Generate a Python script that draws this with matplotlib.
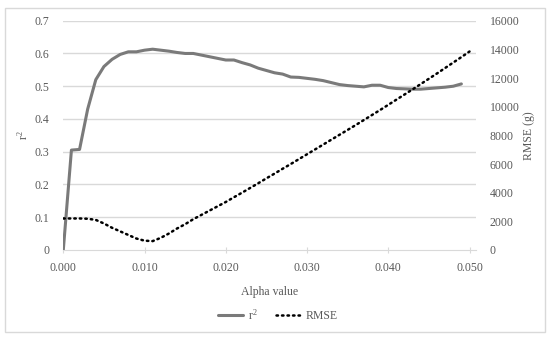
import matplotlib
matplotlib.use("Agg")
import matplotlib.pyplot as plt
from matplotlib.patches import Rectangle
import numpy as np

plt.rcParams['font.family'] = ['Liberation Serif', 'DejaVu Serif']
plt.rcParams['mathtext.fontset'] = 'custom'
plt.rcParams['mathtext.rm'] = 'Liberation Serif'
plt.rcParams['mathtext.it'] = 'Liberation Serif'

alpha_r2 = [0.000, 0.001, 0.002, 0.003, 0.004, 0.005, 0.006, 0.007, 0.008, 0.009,
            0.010, 0.011, 0.012, 0.013, 0.014, 0.015, 0.016, 0.017, 0.018, 0.019,
            0.020, 0.021, 0.022, 0.023, 0.024, 0.025, 0.026, 0.027, 0.028, 0.029,
            0.030, 0.031, 0.032, 0.033, 0.034, 0.035, 0.036, 0.037, 0.038, 0.039,
            0.040, 0.041, 0.042, 0.043, 0.044, 0.045, 0.046, 0.047, 0.048, 0.049]
r2 = [0.000, 0.305, 0.307, 0.430, 0.520, 0.560, 0.582, 0.597, 0.605, 0.605,
      0.610, 0.613, 0.610, 0.607, 0.603, 0.600, 0.600, 0.595, 0.590, 0.585,
      0.580, 0.580, 0.572, 0.565, 0.555, 0.548, 0.541, 0.537, 0.528, 0.527,
      0.524, 0.521, 0.517, 0.511, 0.505, 0.502, 0.500, 0.498, 0.503, 0.503,
      0.496, 0.493, 0.492, 0.491, 0.491, 0.493, 0.495, 0.497, 0.500, 0.507]

alpha_rmse = [0.000, 0.001, 0.002, 0.003, 0.004, 0.005, 0.006, 0.007, 0.008, 0.009,
              0.010, 0.011, 0.012, 0.013, 0.014, 0.015, 0.016, 0.017, 0.018, 0.019,
              0.020, 0.021, 0.022, 0.023, 0.024, 0.025, 0.026, 0.027, 0.028, 0.029,
              0.030, 0.031, 0.032, 0.033, 0.034, 0.035, 0.036, 0.037, 0.038, 0.039,
              0.040, 0.041, 0.042, 0.043, 0.044, 0.045, 0.046, 0.047, 0.048, 0.049,
              0.050]
rmse = [2200, 2200, 2200, 2180, 2100, 1850, 1550, 1300, 1050, 800,
        650, 620, 850, 1150, 1500, 1800, 2150, 2450, 2750, 3050,
        3350, 3680, 4000, 4330, 4660, 5000, 5330, 5670, 6000, 6340,
        6680, 7020, 7360, 7700, 8040, 8380, 8720, 9070, 9420, 9770,
        10130, 10490, 10850, 11210, 11580, 11950, 12320, 12700, 13080, 13460,
        13850]

x_ticks = [0.000, 0.010, 0.020, 0.030, 0.040, 0.050]
x_tick_labels = ['0.000', '0.010', '0.020', '0.030', '0.040', '0.050']
y_ticks = [0, 0.1, 0.2, 0.3, 0.4, 0.5, 0.6, 0.7]
y_tick_labels = ['0', '0.1', '0.2', '0.3', '0.4', '0.5', '0.6', '0.7']
y2_ticks = [0, 2000, 4000, 6000, 8000, 10000, 12000, 14000, 16000]

txt = '#595959'
grid = '#d9d9d9'
fs = 8.5

fig = plt.figure(figsize=(5.5, 3.38), dpi=100)
fig.patches.append(Rectangle((5/550, 1-332/338), 540/550, 324/338, transform=fig.transFigure,
                             fill=False, edgecolor='#d9d9d9', linewidth=1))
ax = fig.add_axes([63.3/550, 1-250/338, (476-63.3)/550, (250-20.7)/338])
ax2 = ax.twinx()

ax.set_xlim(0, 0.0508)
ax.set_ylim(0, 0.7)
ax2.set_ylim(0, 16000)

for y in y_ticks[1:]:
    ax.axhline(y, color=grid, linewidth=1, zorder=0)

l1, = ax.plot(alpha_r2, r2, color='#7a7a7a', linewidth=2.2, solid_capstyle='round', zorder=3)
l2, = ax2.plot(alpha_rmse, rmse, color='black', linewidth=1.8, linestyle=(0, (0.6, 1.6)),
               dash_capstyle='round', zorder=3)

for a in (ax, ax2):
    for s in a.spines.values():
        s.set_visible(False)
ax.spines['bottom'].set_visible(True)
ax.spines['bottom'].set_color(grid)

ax.set_xticks(x_ticks)
ax.set_xticklabels(x_tick_labels)
ax.set_yticks(y_ticks)
ax.set_yticklabels(y_tick_labels)
ax2.set_yticks(y2_ticks)
ax2.set_yticklabels([str(v) for v in y2_ticks])

ax.tick_params(axis='x', direction='inout', length=5, color=grid, labelcolor=txt, labelsize=fs, pad=6)
ax.tick_params(axis='y', length=0, labelcolor=txt, labelsize=fs, pad=10)
ax2.tick_params(axis='y', length=0, labelcolor=txt, labelsize=fs, pad=10)

ax.set_xlabel('Alpha value', color=txt, fontsize=fs, labelpad=9)
ax.set_ylabel('r$^2$', color=txt, fontsize=fs, labelpad=3)
ax2.set_ylabel('RMSE (g)', color=txt, fontsize=fs, labelpad=2)

fig.legend([l1, l2], ['r$^2$', 'RMSE'], loc='center', bbox_to_anchor=(278/550, 1-315/338),
           ncol=2, frameon=False, fontsize=fs, labelcolor=txt, handlelength=2.1,
           columnspacing=1.6, handletextpad=0.4)

fig.savefig('out.png', dpi=100)
